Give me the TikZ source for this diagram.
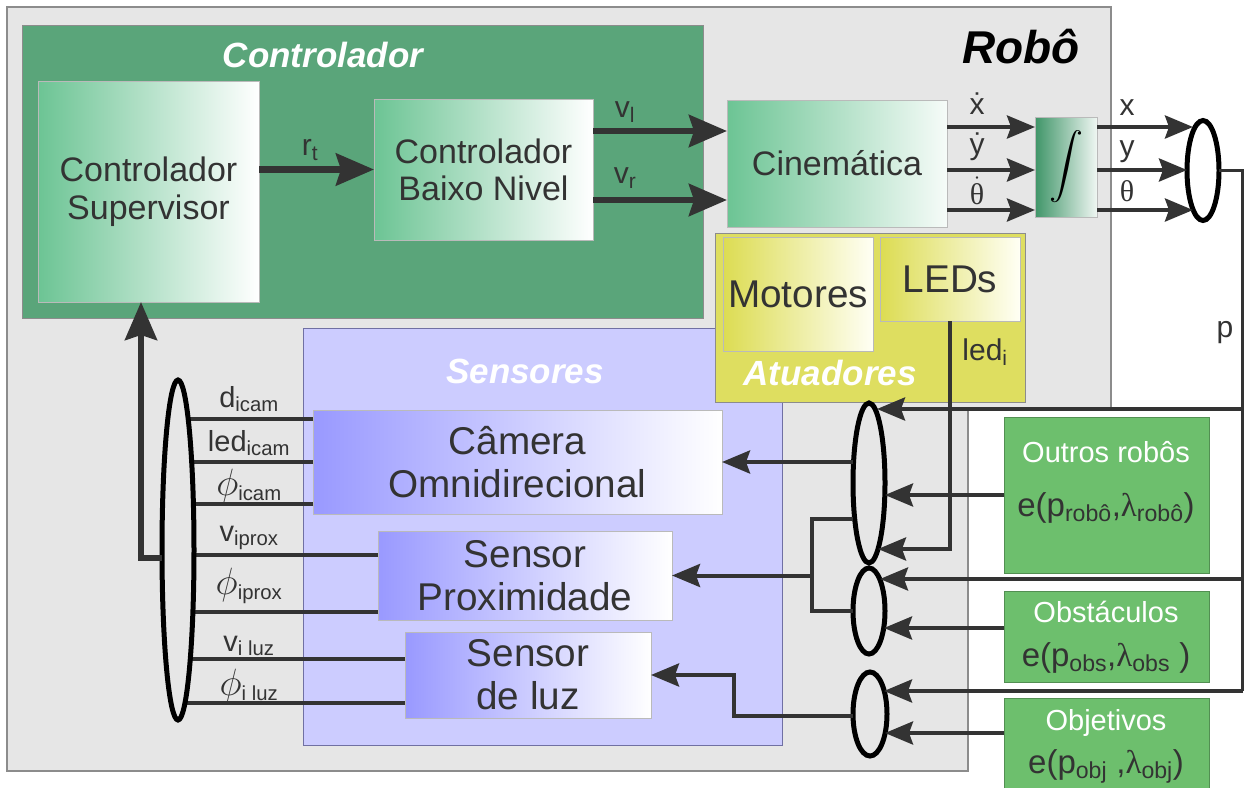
\documentclass[tikz,border=0pt]{standalone}
\usepackage{fix-cm}
\usepackage{fontspec}
\setmainfont{Liberation Sans}
\newfontfamily\grk{Liberation Serif}
\usetikzlibrary{arrows.meta,shapes.geometric}
\definecolor{robo}{HTML}{E6E6E6}
\definecolor{frame}{HTML}{8C8C8C}
\definecolor{ctrl}{HTML}{5AA57A}
\definecolor{mint}{HTML}{6CC494}
\definecolor{deep}{HTML}{3F9568}
\definecolor{sens}{HTML}{CCCCFF}
\definecolor{lila}{HTML}{9999FF}
\definecolor{atu}{HTML}{DEDE60}
\definecolor{lemon}{HTML}{DCDC52}
\definecolor{env}{HTML}{6DBF6D}
\definecolor{dk}{HTML}{333333}
\newcommand{\phisym}{{\fontsize{38}{38}\selectfont$\phi$}}
\tikzset{
  grp/.style={rectangle, anchor=north west, inner sep=0pt, outer sep=0pt, draw=frame, line width=1pt},
  blk/.style={grp, draw=frame!60, right color=white, align=center, text=dk, font=\fontsize{34}{38}\selectfont},
  cb/.style={blk, left color=mint},
  sb/.style={blk, left color=lila, font=\fontsize{38.7}{43}\selectfont},
  yb/.style={blk, left color=lemon, right color=white!96!yellow, font=\fontsize{38.7}{43}\selectfont},
  ext/.style={grp, fill=env, draw=env!75!black, minimum width=205pt},
  ttl/.style={font=\fontsize{35}{40}\selectfont\bfseries\itshape, text=white, anchor=base},
  etl/.style={font=\fontsize{29}{32}\selectfont, text=white, anchor=base},
  eqn/.style={font=\fontsize{33}{36}\selectfont, text=dk, anchor=base},
  lbl/.style={font=\fontsize{30}{32}\selectfont, text=dk, inner sep=0pt},
  slbl/.style={lbl, font=\fontsize{29}{31}\selectfont},
  ln/.style={draw=dk, line width=4pt},
  arr/.style={ln, -{Stealth[length=28pt, width=23pt, inset=4pt]}},
  big/.style={ln, line width=6.5pt, -{Stealth[length=38pt, width=32pt, inset=5pt]}},
  ell/.style={ellipse, draw=black, line width=5pt, inner sep=0pt, outer sep=0pt},
}

\begin{document}
\begin{tikzpicture}[x=1pt, y=-1pt]
\path[use as bounding box, fill=white] (0,0) rectangle (1244,787);

% ---------------- robot area ----------------
\draw[fill=robo, draw=frame, line width=1.5pt] (7,7) -- (1111,7) -- (1111,409) -- (968,409) -- (968,771) -- (7,771) -- cycle;
\node[ttl, text=black, font=\fontsize{46}{50}\selectfont\bfseries\itshape] at (1021,63) {Robô};

% ---------------- controller ----------------
\node[grp, fill=ctrl, minimum width=681pt, minimum height=293pt] (ctrl) at (22,25) {};
\node[ttl] at (323,67) {Controlador};
\node[cb, minimum width=221pt, minimum height=221pt] (sup) at (38,81) {Controlador\\Supervisor};
\node[cb, minimum width=219pt, minimum height=141pt, font=\fontsize{34}{37}\selectfont] (baixo) at (374,99) {Controlador\\Baixo Nivel};
\node[cb, right color=mint!6, minimum width=220pt, minimum height=127pt] (cin) at (727,100) {Cinemática};
\node[blk, left color=deep, right color=white!92!deep, minimum width=62pt, minimum height=100pt, text=black] (intg) at (1035,117)
  {\scalebox{3.4}[3.25]{\fontsize{10}{12}\selectfont$\displaystyle\int$}};
\node[ell, fill=white, minimum width=32pt, minimum height=100pt] (pos) at (1203,170.5) {};

% ---------------- sensors and actuators ----------------
\node[grp, fill=sens, draw=frame!80!blue, minimum width=479pt, minimum height=417pt] (sens) at (303,328) {};
\node[ttl] at (525,383) {Sensores};
\node[sb, minimum width=409pt, minimum height=104pt] (cam) at (313,410) {Câmera\\Omnidirecional};
\node[sb, minimum width=294pt, minimum height=89pt] (prox) at (378,531) {Sensor\\Proximidade};
\node[sb, minimum width=246pt, minimum height=86pt] (luz) at (405,632) {Sensor\\de luz};

\node[grp, fill=atu, draw=frame, minimum width=310pt, minimum height=169pt] (atu) at (715,233) {};
\node[yb, minimum width=150pt, minimum height=114pt] (mot) at (723,237) {Motores};
\node[yb, minimum width=140pt, minimum height=84pt] (leds) at (880,237) {LEDs};
\node[ttl] at (830,385) {Atuadores};

% ---------------- environment ----------------
\node[ext, minimum height=156pt] (rob) at (1004,417) {};
\node[etl] at (1106,462) {Outros robôs};
\node[eqn] at (1106,516) {e(p\textsubscript{robô},{\grk λ}\textsubscript{robô})};
\node[ext, minimum height=91pt] (obs) at (1004,591) {};
\node[etl] at (1106,622) {Obstáculos};
\node[eqn] at (1106,666) {e(p\textsubscript{obs},{\grk λ}\textsubscript{obs} )};
\node[ext, minimum height=95pt] (obj) at (1004,698) {};
\node[etl] at (1106,730) {Objetivos};
\node[eqn] at (1106,773) {e(p\textsubscript{obj} ,{\grk λ}\textsubscript{obj})};

% ---------------- controller signals ----------------
\coordinate (vl) at (0,131); \coordinate (vr) at (0,200);
\coordinate (d1) at (0,127); \coordinate (d2) at (0,170); \coordinate (d3) at (0,210);
\draw[big] (sup.east |- baixo.west) -- (baixo.west);
\draw[big] (baixo.east |- vl) -- (cin.west |- vl);
\draw[big] (baixo.east |- vr) -- (cin.west |- vr);
\foreach \d in {d1,d2,d3} \draw[arr] (cin.east |- \d) -- (intg.west |- \d);
\draw[arr] (intg.east |- d1) -- (pos.west |- d1) [shorten >=-6pt];
\draw[arr] (intg.east |- d2) -- (pos.west |- d2);
\draw[arr] (intg.east |- d3) -- (pos.west |- d3) [shorten >=-6pt];
\node[lbl] at (310,150) {r\textsubscript{t}};
\node[lbl] at (625,112) {v\textsubscript{l}};
\node[lbl] at (625,178) {v\textsubscript{r}};
\node[lbl] at (977,104) {\.{x}};
\node[lbl] at (977,147) {\.{y}};
\node[lbl] at (977,191) {$\dot{\hbox{\grk θ}}$};
\node[lbl] at (1127,108) {x};
\node[lbl] at (1127,152) {y};
\node[lbl] at (1127,191) {\grk θ};

% ---------------- perception ----------------
\node[ell, fill=robo, minimum width=32pt, minimum height=160pt] (eA) at (869,483) {};
\node[ell, fill=robo, minimum width=32pt, minimum height=86pt] (eB) at (869,611) {};
\node[ell, fill=robo, minimum width=34pt, minimum height=84pt] (eC) at (870,714) {};
\coordinate (pb) at (1243,691);
\coordinate (a1) at (877,409); \coordinate (a3) at (878,549);
\coordinate (b1) at (880,579); \coordinate (b2) at (884,628);
\coordinate (c1) at (884,691); \coordinate (c2) at (885,733);
\draw[ln, line width=3.5pt] (pos.east) -| (pb);
\draw[arr] (pb |- a1) -- (a1);
\draw[arr] (rob.west) -- (rob.west -| eA.east);
\draw[arr] (leds.south) |- (a3);
\draw[arr] (pb |- b1) -- (b1);
\draw[arr] (obs.west |- b2) -- (b2);
\draw[arr] (pb) -- (c1);
\draw[arr] (obj.west |- c2) -- (c2);
\node[lbl] at (985,352) {led\textsubscript{i}};
\node[lbl] at (1225,333) {p};

\coordinate (m) at (812,519); \coordinate (k) at (734,716);
\draw[arr] (eA.west |- cam.east) -- (cam.east);
\draw[ln] (eA.west |- m) -- (m) |- (eB.west);
\draw[arr] (m |- prox.east) -- (prox.east);
\draw[arr] (eC.west |- k) -- (k) |- (luz.east);

% ---------------- sensor outputs ----------------
\foreach \s/\y in {cam/419, cam/462, cam/504, prox/555, prox/612, luz/659, luz/703}
  \draw[ln, line width=3.5pt] (\s.west |- 0,\y) -- (178,\y);
\node[ell, fill=robo, minimum width=32pt, minimum height=340pt] (eS) at (178,550) {};
\coordinate (fb) at (141,558);
\draw[big, line width=6pt] (eS.west |- fb) -- (fb) -- (fb |- sup.south);
\node[slbl] at (249,399) {d\textsubscript{icam}};
\node[slbl] at (249,443) {led\textsubscript{icam}};
\node[slbl] at (249,486) {\phisym\textsubscript{icam}};
\node[slbl] at (249,538) {v\textsubscript{iprox}};
\node[slbl] at (249,586) {\phisym\textsubscript{iprox}};
\node[slbl] at (249,646) {v\textsubscript{i luz}};
\node[slbl] at (249,686) {\phisym\textsubscript{i luz}};
\end{tikzpicture}
\end{document}
